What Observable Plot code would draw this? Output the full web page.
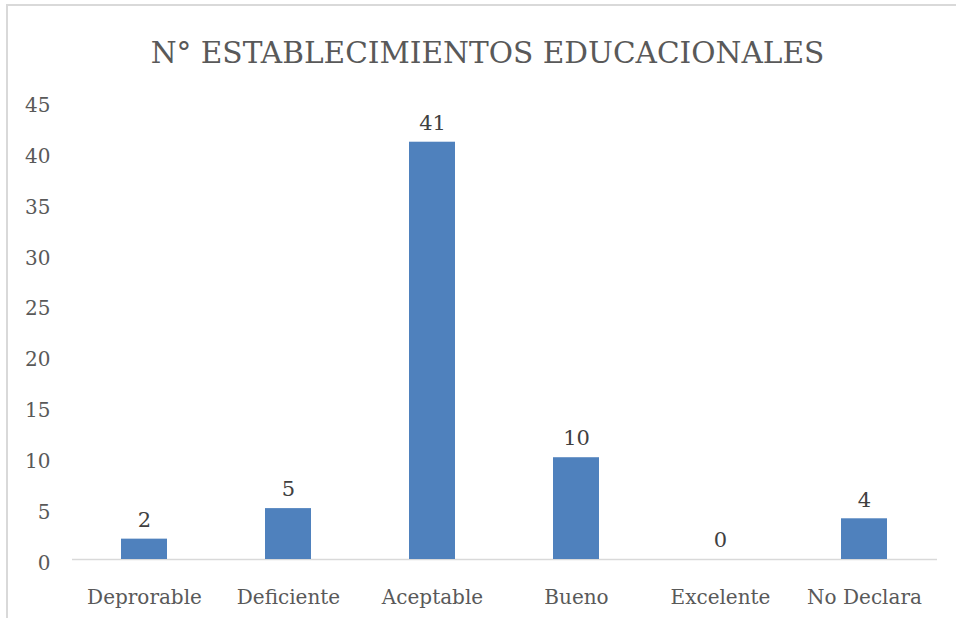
<!DOCTYPE html>
<html>
<head>
<meta charset="utf-8">
<script src="https://cdn.jsdelivr.net/npm/d3@7"></script>
<script src="https://cdn.jsdelivr.net/npm/@observablehq/plot@0.6"></script>
<style>
  html, body { margin: 0; padding: 0; background: #fff; width: 956px; height: 618px; overflow: hidden; }
  #frame { position: absolute; left: 6px; top: 4px; width: 980px; height: 640px;
           border-left: 2px solid #d9d9d9; border-top: 2px solid #d9d9d9; }
  #title { position: absolute; left: 0; top: 39px; width: 975px; text-align: center;
           font-family: "DejaVu Serif", serif; font-size: 29.6px; color: #595959; white-space: nowrap; line-height: 1; }
  #chart { position: absolute; left: 0; top: 0; }
</style>
</head>
<body>
<div id="frame"></div>
<div id="title">N° ESTABLECIMIENTOS EDUCACIONALES</div>
<div id="chart"></div>
<script>
const categories = ["Deprorable", "Deficiente", "Aceptable", "Bueno", "Excelente", "No Declara"];
const values = [2, 5, 41, 10, 0, 4];
const yTicks = [0, 5, 10, 15, 20, 25, 30, 35, 40, 45];

const data = categories.map((c, i) => ({category: c, value: values[i]}));

const plot = Plot.plot({
  width: 956,
  height: 618,
  marginTop: 101,
  marginBottom: 59,
  marginLeft: 72,
  marginRight: 19,
  style: {fontFamily: "DejaVu Serif, serif", fontSize: "20px", color: "#595959", background: "transparent"},
  x: {domain: categories, paddingInner: 0.68, paddingOuter: 0.34, label: null},
  y: {domain: [0, 45], label: null},
  marks: [
    Plot.axisY({ticks: yTicks, tickSize: 0, tickPadding: 22, dy: 4, fontSize: 20, label: null}),
    Plot.axisX({tickSize: 0, tickPadding: 30, fontSize: 20, label: null}),
    Plot.ruleY([0], {stroke: "#d9d9d9", strokeWidth: 1.5}),
    Plot.barY(data, {x: "category", y: "value", fill: "#4f81bd"}),
    Plot.text(data, {x: "category", y: "value", text: d => String(d.value), dy: -19, fill: "#404040", fontSize: 21})
  ]
});
document.getElementById("chart").appendChild(plot);
</script>
</body>
</html>
